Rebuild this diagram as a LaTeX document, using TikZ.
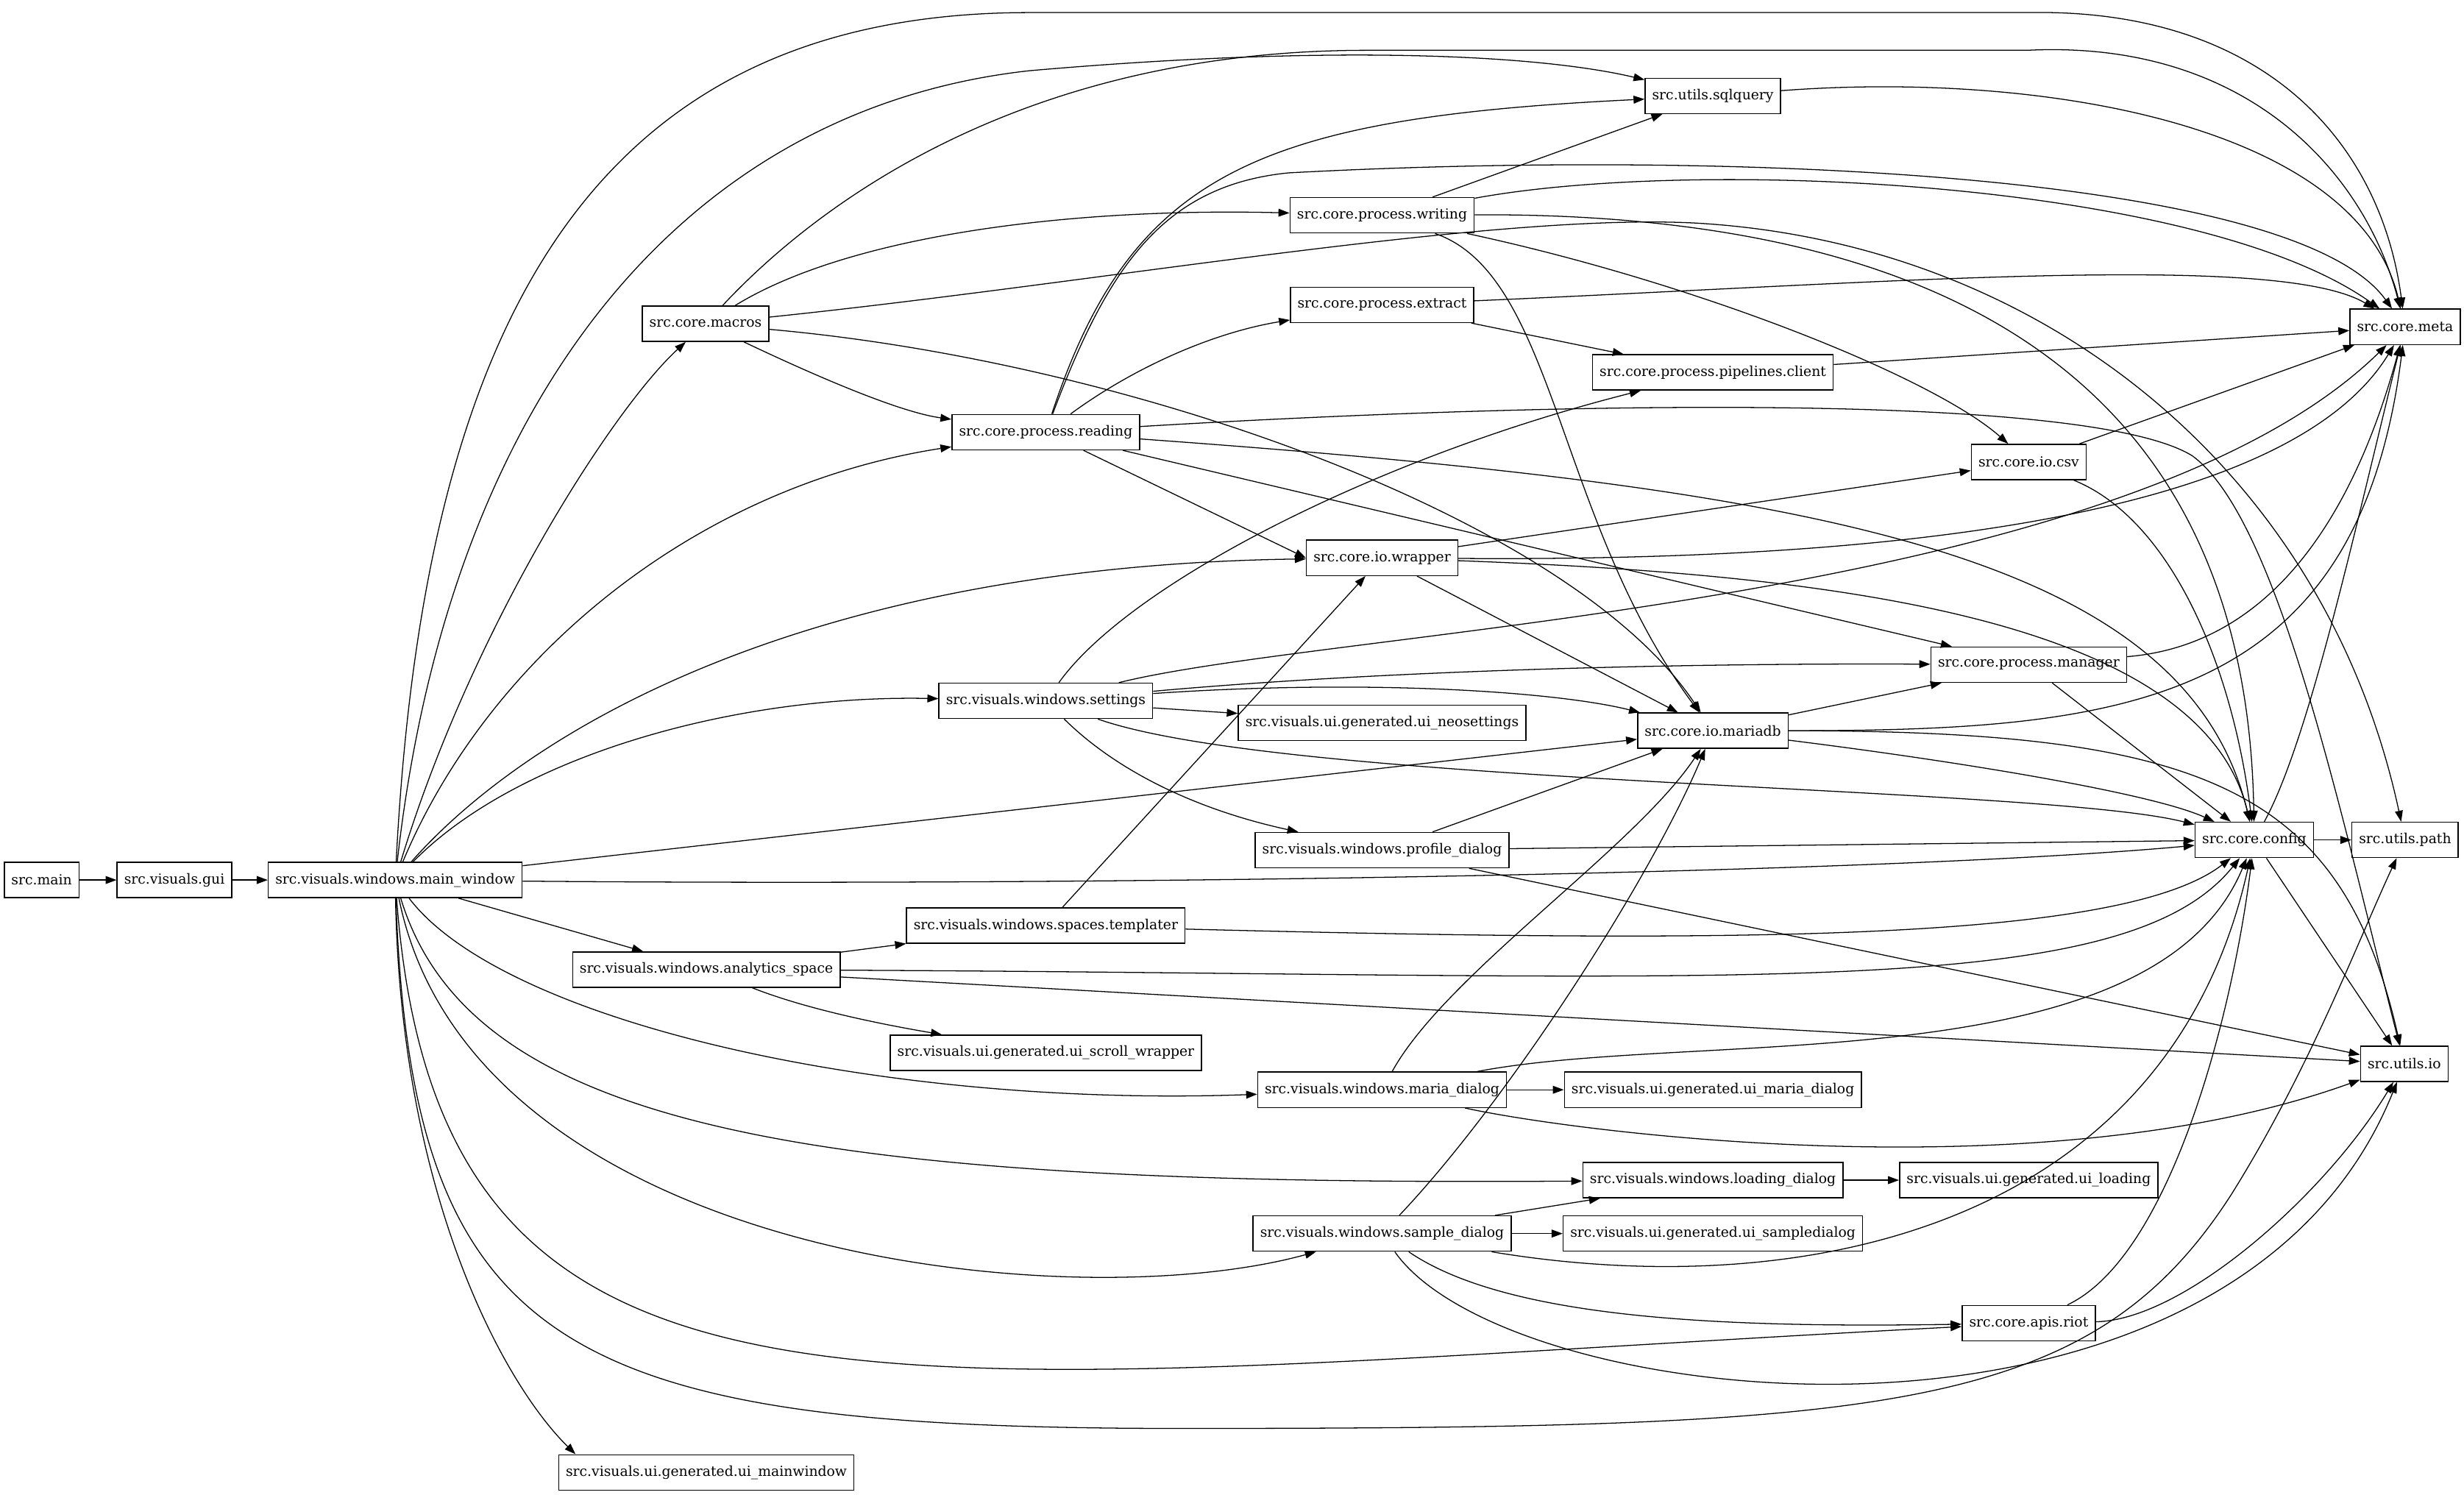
\documentclass[tikz,border=0pt]{standalone}
\usepackage{fontspec}
\setmainfont{DejaVu Serif}
\usetikzlibrary{arrows.meta}

\begin{document}
\begin{tikzpicture}[
    x=1pt, y=-1pt,
    % Defining style for the module boxes
    module/.style={
        rectangle,
        draw=black,
        line width=0.7pt,
        inner xsep=4.5pt,
        inner ysep=0pt,
        minimum height=22.5pt,
        font=\fontsize{8.8}{10}\selectfont
    },
    % Defining style for the import edges
    dep/.style={
        draw=black,
        line width=0.6pt,
        -{Triangle[length=7pt,width=5pt]}
    }
]
    \useasboundingbox (0,0) rectangle (1568,951);

    % Place modules rank by rank, left to right
    \node[module] (main) at (26.5,560) {src.main};
    \node[module] (gui) at (111,560) {src.visuals.gui};
    \node[module] (mainwin) at (251.5,560) {src.visuals.windows.main\_window};

    \node[module] (macros) at (449,206) {src.core.macros};
    \node[module] (analytics) at (449.5,617) {src.visuals.windows.analytics\_space};
    \node[module] (uimain) at (449.5,937) {src.visuals.ui.generated.ui\_mainwindow};

    \node[module] (reading) at (665.5,275) {src.core.process.reading};
    \node[module] (settings) at (665.5,446) {src.visuals.windows.settings};
    \node[module] (templater) at (665.5,589) {src.visuals.windows.spaces.templater};
    \node[module] (scroll) at (665.5,670) {src.visuals.ui.generated.ui\_scroll\_wrapper};

    \node[module] (writing) at (879.5,137) {src.core.process.writing};
    \node[module] (extract) at (879.5,194) {src.core.process.extract};
    \node[module] (wrapper) at (879.5,355) {src.core.io.wrapper};
    \node[module] (neosettings) at (879.5,460) {src.visuals.ui.generated.ui\_neosettings};
    \node[module] (profile) at (879.5,541) {src.visuals.windows.profile\_dialog};
    \node[module] (mariadlg) at (879.5,693.5) {src.visuals.windows.maria\_dialog};
    \node[module] (sample) at (879.5,785) {src.visuals.windows.sample\_dialog};

    \node[module] (sqlquery) at (1090,61) {src.utils.sqlquery};
    \node[module] (pipelines) at (1090,237) {src.core.process.pipelines.client};
    \node[module] (mariadb) at (1090,465) {src.core.io.mariadb};
    \node[module] (uimaria) at (1090,693.5) {src.visuals.ui.generated.ui\_maria\_dialog};
    \node[module] (loading) at (1090,751) {src.visuals.windows.loading\_dialog};
    \node[module] (uisample) at (1090,785) {src.visuals.ui.generated.ui\_sampledialog};

    \node[module] (csv) at (1291,294) {src.core.io.csv};
    \node[module] (manager) at (1291,423) {src.core.process.manager};
    \node[module] (uiloading) at (1291,751) {src.visuals.ui.generated.ui\_loading};
    \node[module] (riot) at (1291,842) {src.core.apis.riot};

    \node[module] (config) at (1434.5,534.5) {src.core.config};

    \node[module] (meta) at (1530.5,208) {src.core.meta};
    \node[module] (path) at (1530.5,534.5) {src.utils.path};
    \node[module] (io) at (1530,677) {src.utils.io};

    % Draw the imports
    \begin{scope}[dep]
        \draw (main) -- (gui);
        \draw (gui) -- (mainwin);

        % main_window
        \draw (mainwin) .. controls (270,200) and (380,8) .. (655,8) -- (1290,8) .. controls (1440,5) and (1515,90) .. (meta);
        \draw (mainwin) .. controls (285,260) and (430,70) .. (655,45) .. controls (850,28) and (980,35) .. (sqlquery);
        \draw (mainwin) .. controls (300,400) and (390,260) .. (macros);
        \draw (mainwin) .. controls (310,420) and (440,310) .. (reading);
        \draw (mainwin) .. controls (340,460) and (520,360) .. (wrapper);
        \draw (mainwin) .. controls (330,480) and (470,442) .. (settings);
        \draw (mainwin) -- (mariadb);
        \draw (mainwin) .. controls (700,564) and (1200,556) .. (config);
        \draw (mainwin) -- (analytics);
        \draw (mainwin) .. controls (320,650) and (560,705) .. (mariadlg);
        \draw (mainwin) .. controls (300,720) and (520,755) .. (loading);
        \draw (mainwin) .. controls (300,800) and (680,840) .. (sample);
        \draw (mainwin) .. controls (280,940) and (560,880) .. (riot);
        \draw (mainwin) .. controls (262,860) and (360,909) .. (750,909) .. controls (1200,909) and (1330,900) .. (1420,760) .. controls (1470,680) and (1500,600) .. (path);
        \draw (mainwin) .. controls (255,760) and (320,880) .. ([xshift=11pt]uimain.north west);

        % macros
        \draw (macros) .. controls (520,130) and (650,32) .. (870,32) -- (1290,32) .. controls (1430,25) and (1505,110) .. (meta);
        \draw (macros) .. controls (540,150) and (680,132) .. (writing);
        \draw (macros) .. controls (510,235) and (570,262) .. (reading);
        \draw (macros) .. controls (720,230) and (1000,330) .. (mariadb);
        \draw (macros) .. controls (700,180) and (950,135) .. (1080,142) .. controls (1300,155) and (1480,300) .. (path);

        % reading
        \draw (reading) .. controls (720,110) and (800,75) .. (sqlquery);
        \draw (reading) .. controls (705,170) and (740,118) .. (820,110) .. controls (1100,95) and (1460,110) .. (meta);
        \draw (reading) .. controls (720,235) and (770,212) .. (extract);
        \draw (reading) -- (wrapper.west);
        \draw (reading) -- (manager);
        \draw (reading) .. controls (1150,310) and (1390,350) .. (config);
        \draw (reading) .. controls (1000,255) and (1330,250) .. (1395,290) .. controls (1450,330) and (1490,520) .. (io);

        % writing and extract
        \draw (writing) -- (sqlquery);
        \draw (writing) .. controls (1080,100) and (1400,115) .. (meta);
        \draw (writing) .. controls (1250,135) and (1430,250) .. (config);
        \draw (writing) .. controls (990,175) and (990,330) .. (mariadb);
        \draw (writing) .. controls (1080,180) and (1230,240) .. (csv);
        \draw (extract) .. controls (1200,180) and (1450,160) .. (meta);
        \draw (extract) -- (pipelines);
        \draw (pipelines) -- (meta);
        \draw (sqlquery) .. controls (1300,45) and (1500,80) .. (meta);

        % io layer
        \draw (csv) -- (meta);
        \draw (csv) .. controls (1380,330) and (1420,420) .. (config);
        \draw (wrapper) -- (csv);
        \draw (wrapper) .. controls (1150,357) and (1450,340) .. (meta);
        \draw (wrapper) .. controls (1150,365) and (1400,390) .. (config);
        \draw (wrapper) -- (mariadb);

        % settings
        \draw (settings) .. controls (720,370) and (880,290) .. (pipelines);
        \draw (settings) .. controls (850,400) and (1350,385) .. (meta);
        \draw (settings) .. controls (900,425) and (1100,422) .. (manager);
        \draw (settings) .. controls (870,432) and (990,440) .. (mariadb);
        \draw (settings) -- (neosettings);
        \draw (settings) .. controls (820,500) and (1300,500) .. (config);
        \draw (settings) .. controls (710,490) and (760,515) .. (profile);

        % manager and mariadb
        \draw (manager) .. controls (1450,410) and (1500,320) .. (meta);
        \draw (manager) -- (config);
        \draw (mariadb) -- (manager);
        \draw (mariadb) .. controls (1350,465) and (1500,450) .. (meta);
        \draw (mariadb) .. controls (1250,485) and (1370,505) .. (config);
        \draw (mariadb) .. controls (1400,465) and (1490,500) .. (io);

        % profile_dialog
        \draw (profile) -- (mariadb);
        \draw (profile) -- (config);
        \draw (profile) -- (io);

        % config
        \draw (config) .. controls (1470,470) and (1500,330) .. (meta);
        \draw (config) -- (path);
        \draw (config) -- (io);

        % templater and analytics_space
        \draw (templater) -- (wrapper);
        \draw (templater) .. controls (1100,600) and (1350,600) .. (config);
        \draw (analytics) -- (templater);
        \draw (analytics) .. controls (1100,620) and (1350,640) .. (config);
        \draw (analytics) -- (io);
        \draw (analytics) .. controls (520,645) and (580,655) .. (scroll);

        % maria_dialog
        \draw (mariadlg) .. controls (920,620) and (1040,540) .. (mariadb);
        \draw (mariadlg) .. controls (1080,655) and (1370,690) .. (config);
        \draw (mariadlg) -- (uimaria);
        \draw (mariadlg) .. controls (1000,720) and (1300,760) .. (io);

        % loading and sample dialogs
        \draw (loading) -- (uiloading);
        \draw (sample) -- (loading);
        \draw (sample) -- (uisample);
        \draw (sample) .. controls (960,700) and (1050,560) .. (mariadb);
        \draw (sample) .. controls (1150,830) and (1380,780) .. (config);
        \draw (sample) .. controls (960,840) and (1100,845) .. (riot);
        \draw (sample) .. controls (960,900) and (1420,950) .. (io);

        % riot
        \draw (riot) .. controls (1380,800) and (1420,650) .. (config);
        \draw (riot) .. controls (1390,840) and (1480,760) .. (io);
    \end{scope}

\end{tikzpicture}
\end{document}
